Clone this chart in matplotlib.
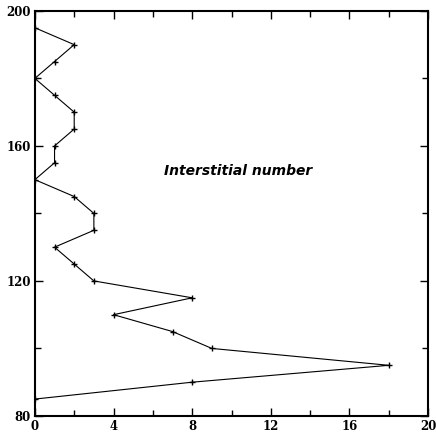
import matplotlib
matplotlib.use("Agg")
import matplotlib.pyplot as plt
from matplotlib.ticker import MultipleLocator

# interstitial count per depth step
depth = [195, 190, 185, 180, 175, 170, 165, 160, 155, 150, 145, 140,
         135, 130, 125, 120, 115, 110, 105, 100, 95, 90, 85]
count = [0, 2, 1, 0, 1, 2, 2, 1, 1, 0, 2, 3,
         3, 1, 2, 3, 8, 4, 7, 9, 18, 8, 0]

x_ticks = [0, 4, 8, 12, 16, 20]
y_ticks = [80, 120, 160, 200]

fig = plt.figure(figsize=(4.36, 4.36), dpi=100)
ax = fig.add_axes([0.080, 0.046, 0.902, 0.929])

ax.plot(count, depth, color="black", linewidth=0.8, marker="+",
        markersize=5, markeredgewidth=1.0)

ax.set_xlim(0, 20)
ax.set_ylim(80, 200)
ax.set_xticks(x_ticks)
ax.set_yticks(y_ticks)
ax.xaxis.set_minor_locator(MultipleLocator(2))
ax.yaxis.set_minor_locator(MultipleLocator(20))
ax.tick_params(which="both", direction="in", top=True, right=True,
               width=1.0, labelsize=8.5)
ax.tick_params(which="major", length=6, pad=3)
ax.tick_params(which="minor", length=4)
for lab in ax.get_xticklabels() + ax.get_yticklabels():
    lab.set_fontweight("bold")
    lab.set_family("DejaVu Serif")
for side in ax.spines.values():
    side.set_linewidth(1.5)

ax.text(0.517, 0.605, "Interstitial number", transform=ax.transAxes,
        ha="center", va="center", fontsize=10, fontweight="bold",
        style="italic")

fig.savefig("out.png", dpi=100)
